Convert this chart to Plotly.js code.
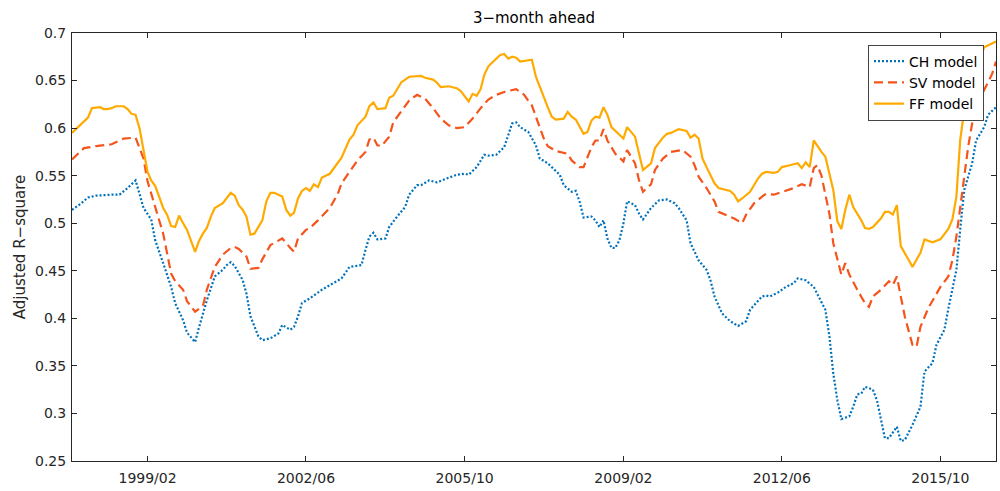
<!DOCTYPE html>
<html>
<head>
<meta charset="utf-8">
<script src="https://cdn.plot.ly/plotly-3.0.1.min.js"></script>
<style>html,body{margin:0;padding:0;background:#fff}#chart{width:1000px;height:491px}</style>
</head>
<body>
<div id="chart"></div>
<script>
// ---- Data (monthly dates) ----
const chDates = ["1997-07","1997-09","1997-11","1998-01","1998-05","1998-07","1998-09","1998-11","1998-12","1999-01","1999-03","1999-04","1999-06","1999-08","1999-09","1999-11","1999-12","2000-02","2000-03","2000-05","2000-07","2000-09","2000-10","2000-11","2000-12","2001-02","2001-03","2001-04","2001-06","2001-07","2001-09","2001-11","2001-12","2002-02","2002-03","2002-04","2002-05","2002-07","2002-10","2003-01","2003-03","2003-05","2003-08","2003-09","2003-10","2003-11","2003-12","2004-02","2004-03","2004-05","2004-07","2004-08","2004-10","2004-11","2005-01","2005-03","2005-05","2005-08","2005-10","2005-11","2006-01","2006-03","2006-04","2006-06","2006-08","2006-10","2006-11","2006-12","2007-02","2007-04","2007-05","2007-07","2007-08","2007-10","2007-11","2008-01","2008-02","2008-03","2008-04","2008-06","2008-07","2008-08","2008-09","2008-10","2008-11","2008-12","2009-01","2009-02","2009-03","2009-05","2009-06","2009-07","2009-09","2009-11","2010-01","2010-03","2010-04","2010-06","2010-07","2010-09","2010-11","2010-12","2011-01","2011-03","2011-05","2011-07","2011-09","2011-10","2012-01","2012-02","2012-03","2012-05","2012-07","2012-09","2012-10","2012-12","2013-02","2013-03","2013-05","2013-06","2013-07","2013-08","2013-09","2013-11","2013-12","2014-01","2014-02","2014-03","2014-05","2014-06","2014-07","2014-08","2014-09","2014-11","2014-12","2015-01","2015-03","2015-05","2015-06","2015-08","2015-09","2015-11","2015-12","2016-02","2016-03","2016-04","2016-06","2016-07","2016-09","2016-10","2016-12"];
const chValues = [0.514,0.520,0.527,0.529,0.530,0.530,0.537,0.545,0.531,0.516,0.504,0.482,0.458,0.433,0.416,0.398,0.385,0.375,0.390,0.419,0.444,0.451,0.456,0.459,0.455,0.440,0.426,0.402,0.381,0.377,0.379,0.384,0.393,0.388,0.391,0.402,0.416,0.421,0.430,0.437,0.442,0.454,0.456,0.472,0.486,0.490,0.483,0.484,0.496,0.507,0.517,0.530,0.540,0.540,0.545,0.543,0.546,0.551,0.552,0.551,0.559,0.572,0.571,0.572,0.580,0.605,0.606,0.601,0.596,0.582,0.568,0.563,0.559,0.551,0.540,0.533,0.534,0.523,0.506,0.507,0.503,0.496,0.503,0.484,0.474,0.474,0.482,0.500,0.523,0.519,0.510,0.504,0.516,0.524,0.525,0.521,0.516,0.503,0.479,0.461,0.451,0.440,0.423,0.405,0.397,0.392,0.397,0.409,0.423,0.424,0.423,0.427,0.433,0.437,0.442,0.440,0.433,0.425,0.409,0.381,0.342,0.314,0.294,0.297,0.307,0.320,0.321,0.328,0.325,0.314,0.295,0.274,0.274,0.286,0.271,0.272,0.288,0.307,0.344,0.353,0.372,0.388,0.410,0.451,0.493,0.535,0.563,0.587,0.601,0.614,0.622];

const svDates = ["1997-07","1997-10","1998-01","1998-05","1998-08","1998-11","1999-01","1999-02","1999-04","1999-06","1999-08","1999-09","1999-11","1999-12","2000-02","2000-04","2000-05","2000-07","2000-09","2000-11","2000-12","2001-01","2001-03","2001-04","2001-06","2001-07","2001-09","2001-11","2001-12","2002-02","2002-03","2002-04","2002-06","2002-07","2002-09","2002-12","2003-02","2003-03","2003-05","2003-07","2003-09","2003-10","2003-11","2003-12","2004-01","2004-03","2004-04","2004-06","2004-08","2004-10","2004-12","2005-02","2005-04","2005-06","2005-08","2005-10","2005-12","2006-02","2006-04","2006-06","2006-08","2006-11","2007-01","2007-02","2007-03","2007-04","2007-06","2007-07","2007-09","2007-12","2008-01","2008-03","2008-04","2008-06","2008-07","2008-08","2008-09","2008-10","2008-12","2009-02","2009-03","2009-05","2009-06","2009-07","2009-09","2009-10","2009-12","2010-02","2010-05","2010-07","2010-08","2010-09","2010-11","2011-01","2011-02","2011-06","2011-08","2011-09","2011-11","2012-01","2012-02","2012-04","2012-07","2012-09","2012-11","2013-01","2013-02","2013-03","2013-04","2013-05","2013-06","2013-07","2013-08","2013-09","2013-10","2013-11","2014-01","2014-03","2014-04","2014-05","2014-07","2014-08","2014-09","2014-10","2014-11","2014-12","2015-01","2015-02","2015-03","2015-04","2015-05","2015-07","2015-09","2015-10","2015-12","2016-01","2016-02","2016-03","2016-04","2016-05","2016-06","2016-07","2016-09","2016-11","2016-12"];
const svValues = [0.567,0.579,0.581,0.583,0.589,0.590,0.568,0.544,0.517,0.489,0.447,0.439,0.430,0.418,0.407,0.413,0.430,0.454,0.467,0.474,0.475,0.473,0.465,0.452,0.453,0.462,0.477,0.482,0.484,0.474,0.470,0.484,0.493,0.495,0.503,0.516,0.531,0.542,0.554,0.566,0.575,0.588,0.590,0.582,0.581,0.591,0.606,0.618,0.629,0.635,0.631,0.621,0.610,0.603,0.600,0.601,0.610,0.621,0.630,0.635,0.638,0.641,0.635,0.629,0.624,0.612,0.589,0.581,0.576,0.573,0.566,0.559,0.559,0.580,0.587,0.587,0.599,0.587,0.573,0.565,0.577,0.563,0.545,0.533,0.541,0.556,0.568,0.575,0.577,0.570,0.561,0.549,0.537,0.523,0.512,0.505,0.500,0.509,0.521,0.528,0.531,0.530,0.534,0.537,0.541,0.538,0.558,0.561,0.550,0.531,0.510,0.479,0.461,0.446,0.458,0.446,0.430,0.416,0.412,0.423,0.430,0.435,0.439,0.435,0.444,0.423,0.402,0.386,0.372,0.370,0.391,0.411,0.425,0.433,0.444,0.461,0.486,0.517,0.549,0.580,0.605,0.624,0.640,0.657,0.670];

const ffDates = ["1997-07","1997-09","1997-11","1997-12","1998-02","1998-03","1998-04","1998-05","1998-06","1998-08","1998-09","1998-10","1998-11","1998-12","1999-02","1999-03","1999-04","1999-05","1999-06","1999-07","1999-08","1999-09","1999-10","1999-11","1999-12","2000-02","2000-03","2000-04","2000-05","2000-06","2000-07","2000-09","2000-10","2000-11","2000-12","2001-01","2001-02","2001-03","2001-04","2001-05","2001-07","2001-08","2001-09","2001-10","2001-11","2001-12","2002-01","2002-02","2002-03","2002-04","2002-05","2002-06","2002-07","2002-08","2002-09","2002-10","2002-12","2003-03","2003-05","2003-06","2003-07","2003-09","2003-10","2003-11","2003-12","2004-02","2004-03","2004-04","2004-06","2004-08","2004-11","2004-12","2005-02","2005-03","2005-04","2005-06","2005-08","2005-09","2005-11","2005-12","2006-01","2006-02","2006-03","2006-04","2006-05","2006-07","2006-08","2006-09","2006-10","2006-11","2006-12","2007-02","2007-03","2007-04","2007-06","2007-07","2007-08","2007-09","2007-11","2007-12","2008-01","2008-02","2008-04","2008-05","2008-06","2008-07","2008-08","2008-09","2008-10","2008-11","2009-01","2009-02","2009-03","2009-05","2009-07","2009-09","2009-10","2009-12","2010-01","2010-02","2010-04","2010-06","2010-07","2010-08","2010-09","2010-10","2010-11","2011-01","2011-02","2011-05","2011-06","2011-07","2011-08","2011-10","2011-12","2012-01","2012-02","2012-04","2012-05","2012-06","2012-08","2012-09","2012-10","2012-11","2012-12","2013-01","2013-02","2013-04","2013-05","2013-07","2013-08","2013-09","2013-10","2013-11","2013-12","2014-02","2014-03","2014-04","2014-05","2014-07","2014-08","2014-09","2014-10","2014-11","2014-12","2015-02","2015-03","2015-05","2015-06","2015-08","2015-10","2015-12","2016-01","2016-02","2016-03","2016-04","2016-05","2016-06","2016-08","2016-09","2016-12"];
const ffValues = [0.595,0.603,0.611,0.621,0.622,0.620,0.620,0.621,0.623,0.623,0.620,0.615,0.614,0.600,0.554,0.545,0.539,0.528,0.516,0.509,0.497,0.496,0.508,0.500,0.493,0.470,0.481,0.489,0.495,0.507,0.516,0.521,0.527,0.532,0.529,0.519,0.514,0.507,0.488,0.489,0.503,0.523,0.532,0.532,0.530,0.528,0.514,0.508,0.511,0.526,0.534,0.537,0.534,0.541,0.538,0.548,0.552,0.569,0.588,0.593,0.603,0.612,0.623,0.627,0.620,0.621,0.632,0.634,0.648,0.654,0.655,0.653,0.651,0.648,0.643,0.644,0.642,0.639,0.628,0.636,0.634,0.641,0.656,0.665,0.669,0.677,0.678,0.673,0.675,0.674,0.670,0.671,0.672,0.654,0.631,0.622,0.612,0.609,0.610,0.617,0.612,0.609,0.594,0.596,0.608,0.612,0.611,0.622,0.614,0.601,0.593,0.589,0.601,0.591,0.556,0.563,0.579,0.590,0.594,0.595,0.599,0.597,0.590,0.593,0.589,0.568,0.559,0.542,0.537,0.534,0.530,0.523,0.526,0.533,0.547,0.552,0.554,0.553,0.554,0.559,0.561,0.562,0.563,0.558,0.564,0.559,0.587,0.575,0.570,0.535,0.502,0.494,0.514,0.530,0.517,0.503,0.495,0.494,0.496,0.505,0.512,0.512,0.509,0.519,0.476,0.461,0.454,0.469,0.483,0.480,0.483,0.494,0.504,0.528,0.587,0.619,0.629,0.654,0.673,0.685,0.691];

const seriesNames = ["CH model", "SV model", "FF model"];
const xTickDates = ["1999-02-01","2002-06-01","2005-10-01","2009-02-01","2012-06-01","2015-10-01"];
const xTickLabels = ["1999/02","2002/06","2005/10","2009/02","2012/06","2015/10"];
const yTickVals = [0.25,0.3,0.35,0.4,0.45,0.5,0.55,0.6,0.65,0.7];
const yTickLabels = ["0.25","0.3","0.35","0.4","0.45","0.5","0.55","0.6","0.65","0.7"];

const FONT = '"DejaVu Sans", "Liberation Sans", Arial, sans-serif';

const traces = [
  {x: chDates, y: chValues, name: seriesNames[0], mode: 'lines', type: 'scatter',
   line: {color: '#0072BD', width: 2.2, dash: '2px,2px'}},
  {x: svDates, y: svValues, name: seriesNames[1], mode: 'lines', type: 'scatter',
   line: {color: '#F5541C', width: 2.2, dash: '9px,5px'}},
  {x: ffDates, y: ffValues, name: seriesNames[2], mode: 'lines', type: 'scatter',
   line: {color: '#FFAA00', width: 2.2}}
];

const axisCommon = {
  showline: true, linecolor: '#262626', linewidth: 1, mirror: 'ticks',
  ticks: 'inside', ticklen: 5, tickcolor: '#262626', showgrid: false, zeroline: false,
  tickfont: {family: FONT, size: 14, color: '#262626'}
};

const layout = {
  width: 1000, height: 491,
  margin: {l: 72, r: 4, t: 33, b: 30},
  paper_bgcolor: '#ffffff', plot_bgcolor: '#ffffff',
  font: {family: FONT, size: 14, color: '#262626'},
  title: {text: '3\u2212month ahead', x: 0.534, xanchor: 'center', xref: 'container',
          y: 0.963, yanchor: 'middle', yref: 'container',
          font: {family: FONT, size: 15, color: '#000'}},
  xaxis: Object.assign({}, axisCommon, {
    type: 'date', range: ['1997-07-01', '2016-12-01'],
    tickmode: 'array', tickvals: xTickDates, ticktext: xTickLabels,
    ticklabelstandoff: 4
  }),
  yaxis: Object.assign({}, axisCommon, {
    range: [0.25, 0.7], tickmode: 'array', tickvals: yTickVals, ticktext: yTickLabels,
    ticklabelstandoff: 2,
    title: {text: 'Adjusted R\u2212square', font: {family: FONT, size: 15, color: '#262626'}, standoff: 5}
  }),
  showlegend: true,
  legend: {
    x: 0.987, xanchor: 'right', y: 0.973, yanchor: 'top',
    bgcolor: '#ffffff', bordercolor: '#444', borderwidth: 1,
    font: {family: FONT, size: 14, color: '#000'},
    tracegroupgap: 0, itemwidth: 30
  }
};

Plotly.newPlot('chart', traces, layout, {displayModeBar: false, staticPlot: true});
</script>
</body>
</html>
